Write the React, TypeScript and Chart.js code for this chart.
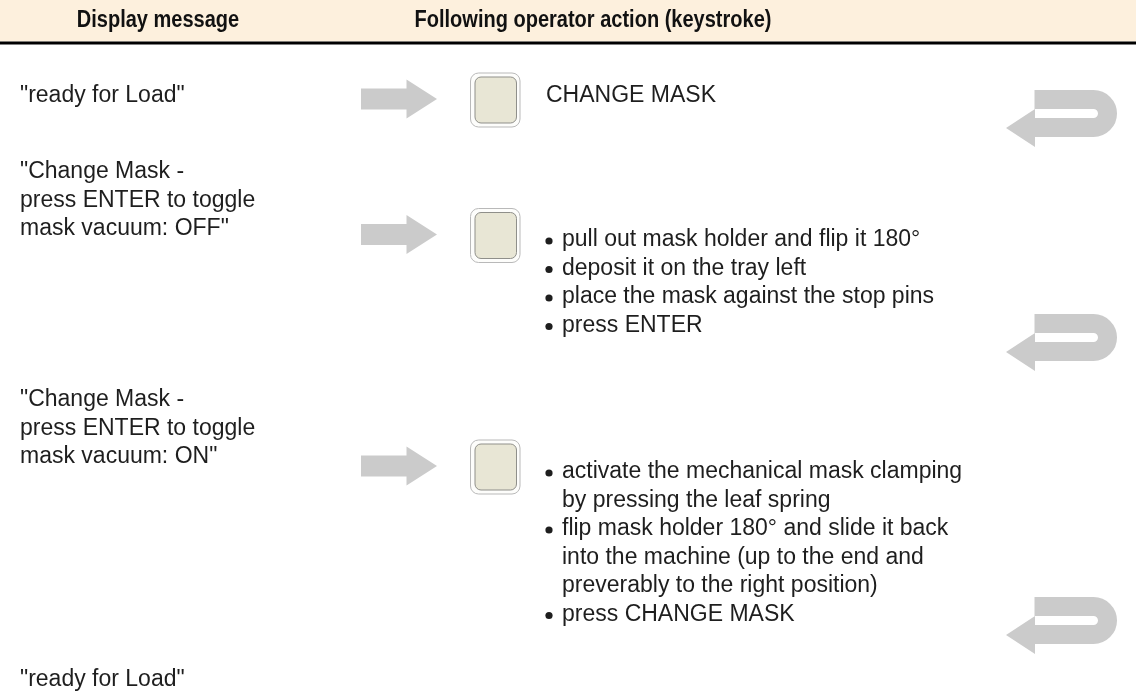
import React, { useEffect, useRef } from "react";
import { Chart, registerables } from "chart.js";

Chart.register(...registerables);

// ---- content ----
const headers = ["Display message", "Following operator action (keystroke)"];
const displayMessages: string[][] = [
  ['"ready for Load"'],
  ['"Change Mask -', "press ENTER to toggle", 'mask vacuum: OFF"'],
  ['"Change Mask -', "press ENTER to toggle", 'mask vacuum: ON"'],
  ['"ready for Load"'],
];
const actionItems: string[][][] = [
  [["CHANGE MASK"]],
  [
    ["pull out mask holder and flip it 180°"],
    ["deposit it on the tray left"],
    ["place the mask against the stop pins"],
    ["press ENTER"],
  ],
  [
    ["activate the mechanical mask clamping", "by pressing the leaf spring"],
    [
      "flip mask holder 180° and slide it back",
      "into the machine (up to the end and",
      "preverably to the right position)",
    ],
    ["press CHANGE MASK"],
  ],
];
const actionBulleted = [false, true, true];

// ---- layout (value space of the hidden scales) ----
const W = 1136;
const H = 693;
const LINE = 28.5;
const rowTextY = [96, 172, 400, 680];
const keyY = [100, 235.5, 467];
const actionY = [96, 240, 472];
const returnTop = [90, 314, 597];

const FONT = '"Liberation Sans", Arial, Helvetica, sans-serif';

function roundRect(ctx: CanvasRenderingContext2D, x: number, y: number, w: number, h: number, r: number) {
  ctx.beginPath();
  ctx.moveTo(x + r, y);
  ctx.lineTo(x + w - r, y);
  ctx.arcTo(x + w, y, x + w, y + r, r);
  ctx.lineTo(x + w, y + h - r);
  ctx.arcTo(x + w, y + h, x + w - r, y + h, r);
  ctx.lineTo(x + r, y + h);
  ctx.arcTo(x, y + h, x, y + h - r, r);
  ctx.lineTo(x, y + r);
  ctx.arcTo(x, y, x + r, y, r);
  ctx.closePath();
}

function condensedText(ctx: CanvasRenderingContext2D, t: string, x: number, y: number, k: number) {
  ctx.save();
  ctx.translate(x, y);
  ctx.scale(k, 1);
  ctx.fillText(t, 0, 0);
  ctx.restore();
}

const diagramPlugin = {
  id: "diagram",
  afterDraw(chart: any) {
    const ctx: CanvasRenderingContext2D = chart.ctx;
    const sx = chart.scales.x;
    const sy = chart.scales.y;
    const px = (v: number) => sx.getPixelForValue(v);
    const py = (v: number) => sy.getPixelForValue(v);
    ctx.save();

    // header band
    ctx.fillStyle = "#fdf0dd";
    ctx.fillRect(px(0), py(0), px(W) - px(0), py(41.5) - py(0));
    ctx.fillStyle = "#000";
    ctx.fillRect(px(0), py(41.5), px(W) - px(0), py(44.5) - py(41.5));

    ctx.fillStyle = "#111";
    ctx.font = `bold 23px ${FONT}`;
    ctx.textAlign = "center";
    ctx.textBaseline = "middle";
    condensedText(ctx, headers[0], px(158), py(21), 0.87);
    condensedText(ctx, headers[1], px(593), py(21), 0.87);

    // display messages
    ctx.font = `23px ${FONT}`;
    ctx.textAlign = "left";
    ctx.fillStyle = "#1e1e1e";
    displayMessages.forEach((lines, i) => {
      lines.forEach((t, j) => ctx.fillText(t, px(20), py(rowTextY[i] + j * LINE)));
    });

    // right arrows + keys + actions
    const grey = "#cbcbcb";
    actionItems.forEach((items, i) => {
      const c = keyY[i] - 1;
      ctx.fillStyle = grey;
      ctx.fillRect(px(361), py(c - 10.5), px(407) - px(361), py(c + 10.5) - py(c - 10.5));
      ctx.beginPath();
      ctx.moveTo(px(406.5), py(c - 19.5));
      ctx.lineTo(px(437), py(c));
      ctx.lineTo(px(406.5), py(c + 19.5));
      ctx.closePath();
      ctx.fill();

      // key
      const ky = keyY[i];
      roundRect(ctx, px(470.5), py(ky - 27), px(520) - px(470.5), py(ky + 27) - py(ky - 27), 8);
      ctx.fillStyle = "#fdfdfb";
      ctx.fill();
      ctx.strokeStyle = "#b9b9b9";
      ctx.lineWidth = 1;
      ctx.stroke();
      roundRect(ctx, px(475), py(ky - 23), px(516.5) - px(475), py(ky + 23) - py(ky - 23), 6);
      ctx.fillStyle = "#e8e6d5";
      ctx.fill();
      ctx.strokeStyle = "#8f8f8a";
      ctx.stroke();

      // action text
      ctx.fillStyle = "#1e1e1e";
      let line = 0;
      items.forEach((lines) => {
        if (actionBulleted[i]) {
          ctx.beginPath();
          ctx.arc(px(549), py(actionY[i] + line * LINE + 1), 3.6, 0, Math.PI * 2);
          ctx.fill();
        }
        lines.forEach((t) => {
          ctx.fillText(t, px(actionBulleted[i] ? 562 : 546), py(actionY[i] + line * LINE));
          line++;
        });
      });
    });

    // return arrows
    returnTop.forEach((T) => {
      ctx.strokeStyle = grey;
      ctx.fillStyle = grey;
      ctx.lineWidth = 19;
      ctx.lineCap = "butt";
      const cx = 1093.5;
      ctx.beginPath();
      ctx.moveTo(px(1034.5), py(T + 9.5));
      ctx.lineTo(px(cx), py(T + 9.5));
      ctx.arc(px(cx), py(T + 23.5), 14, -Math.PI / 2, Math.PI / 2);
      ctx.lineTo(px(1034.5), py(T + 37.5));
      ctx.stroke();
      ctx.beginPath();
      ctx.moveTo(px(1035), py(T + 19));
      ctx.lineTo(px(1006), py(T + 38));
      ctx.lineTo(px(1035), py(T + 57));
      ctx.closePath();
      ctx.fill();
    });

    ctx.restore();
  },
};

export default function App() {
  const ref = useRef<HTMLCanvasElement | null>(null);
  useEffect(() => {
    if (!ref.current) return;
    const chart = new Chart(ref.current, {
      type: "scatter",
      data: { datasets: [{ data: [], pointRadius: 0 }] },
      options: {
        animation: false,
        responsive: false,
        devicePixelRatio: 1,
        events: [],
        layout: { padding: 0 },
        plugins: { legend: { display: false }, tooltip: { enabled: false } },
        scales: {
          x: { type: "linear", min: 0, max: W, display: false },
          y: { type: "linear", min: 0, max: H, reverse: true, display: false },
        },
      },
      plugins: [diagramPlugin],
    });
    return () => chart.destroy();
  }, []);
  return (
    <div style={{ position: "absolute", left: 0, top: 0, width: W, height: H, background: "#fff" }}>
      <canvas ref={ref} width={W} height={H} style={{ width: W, height: H, display: "block" }} />
    </div>
  );
}
